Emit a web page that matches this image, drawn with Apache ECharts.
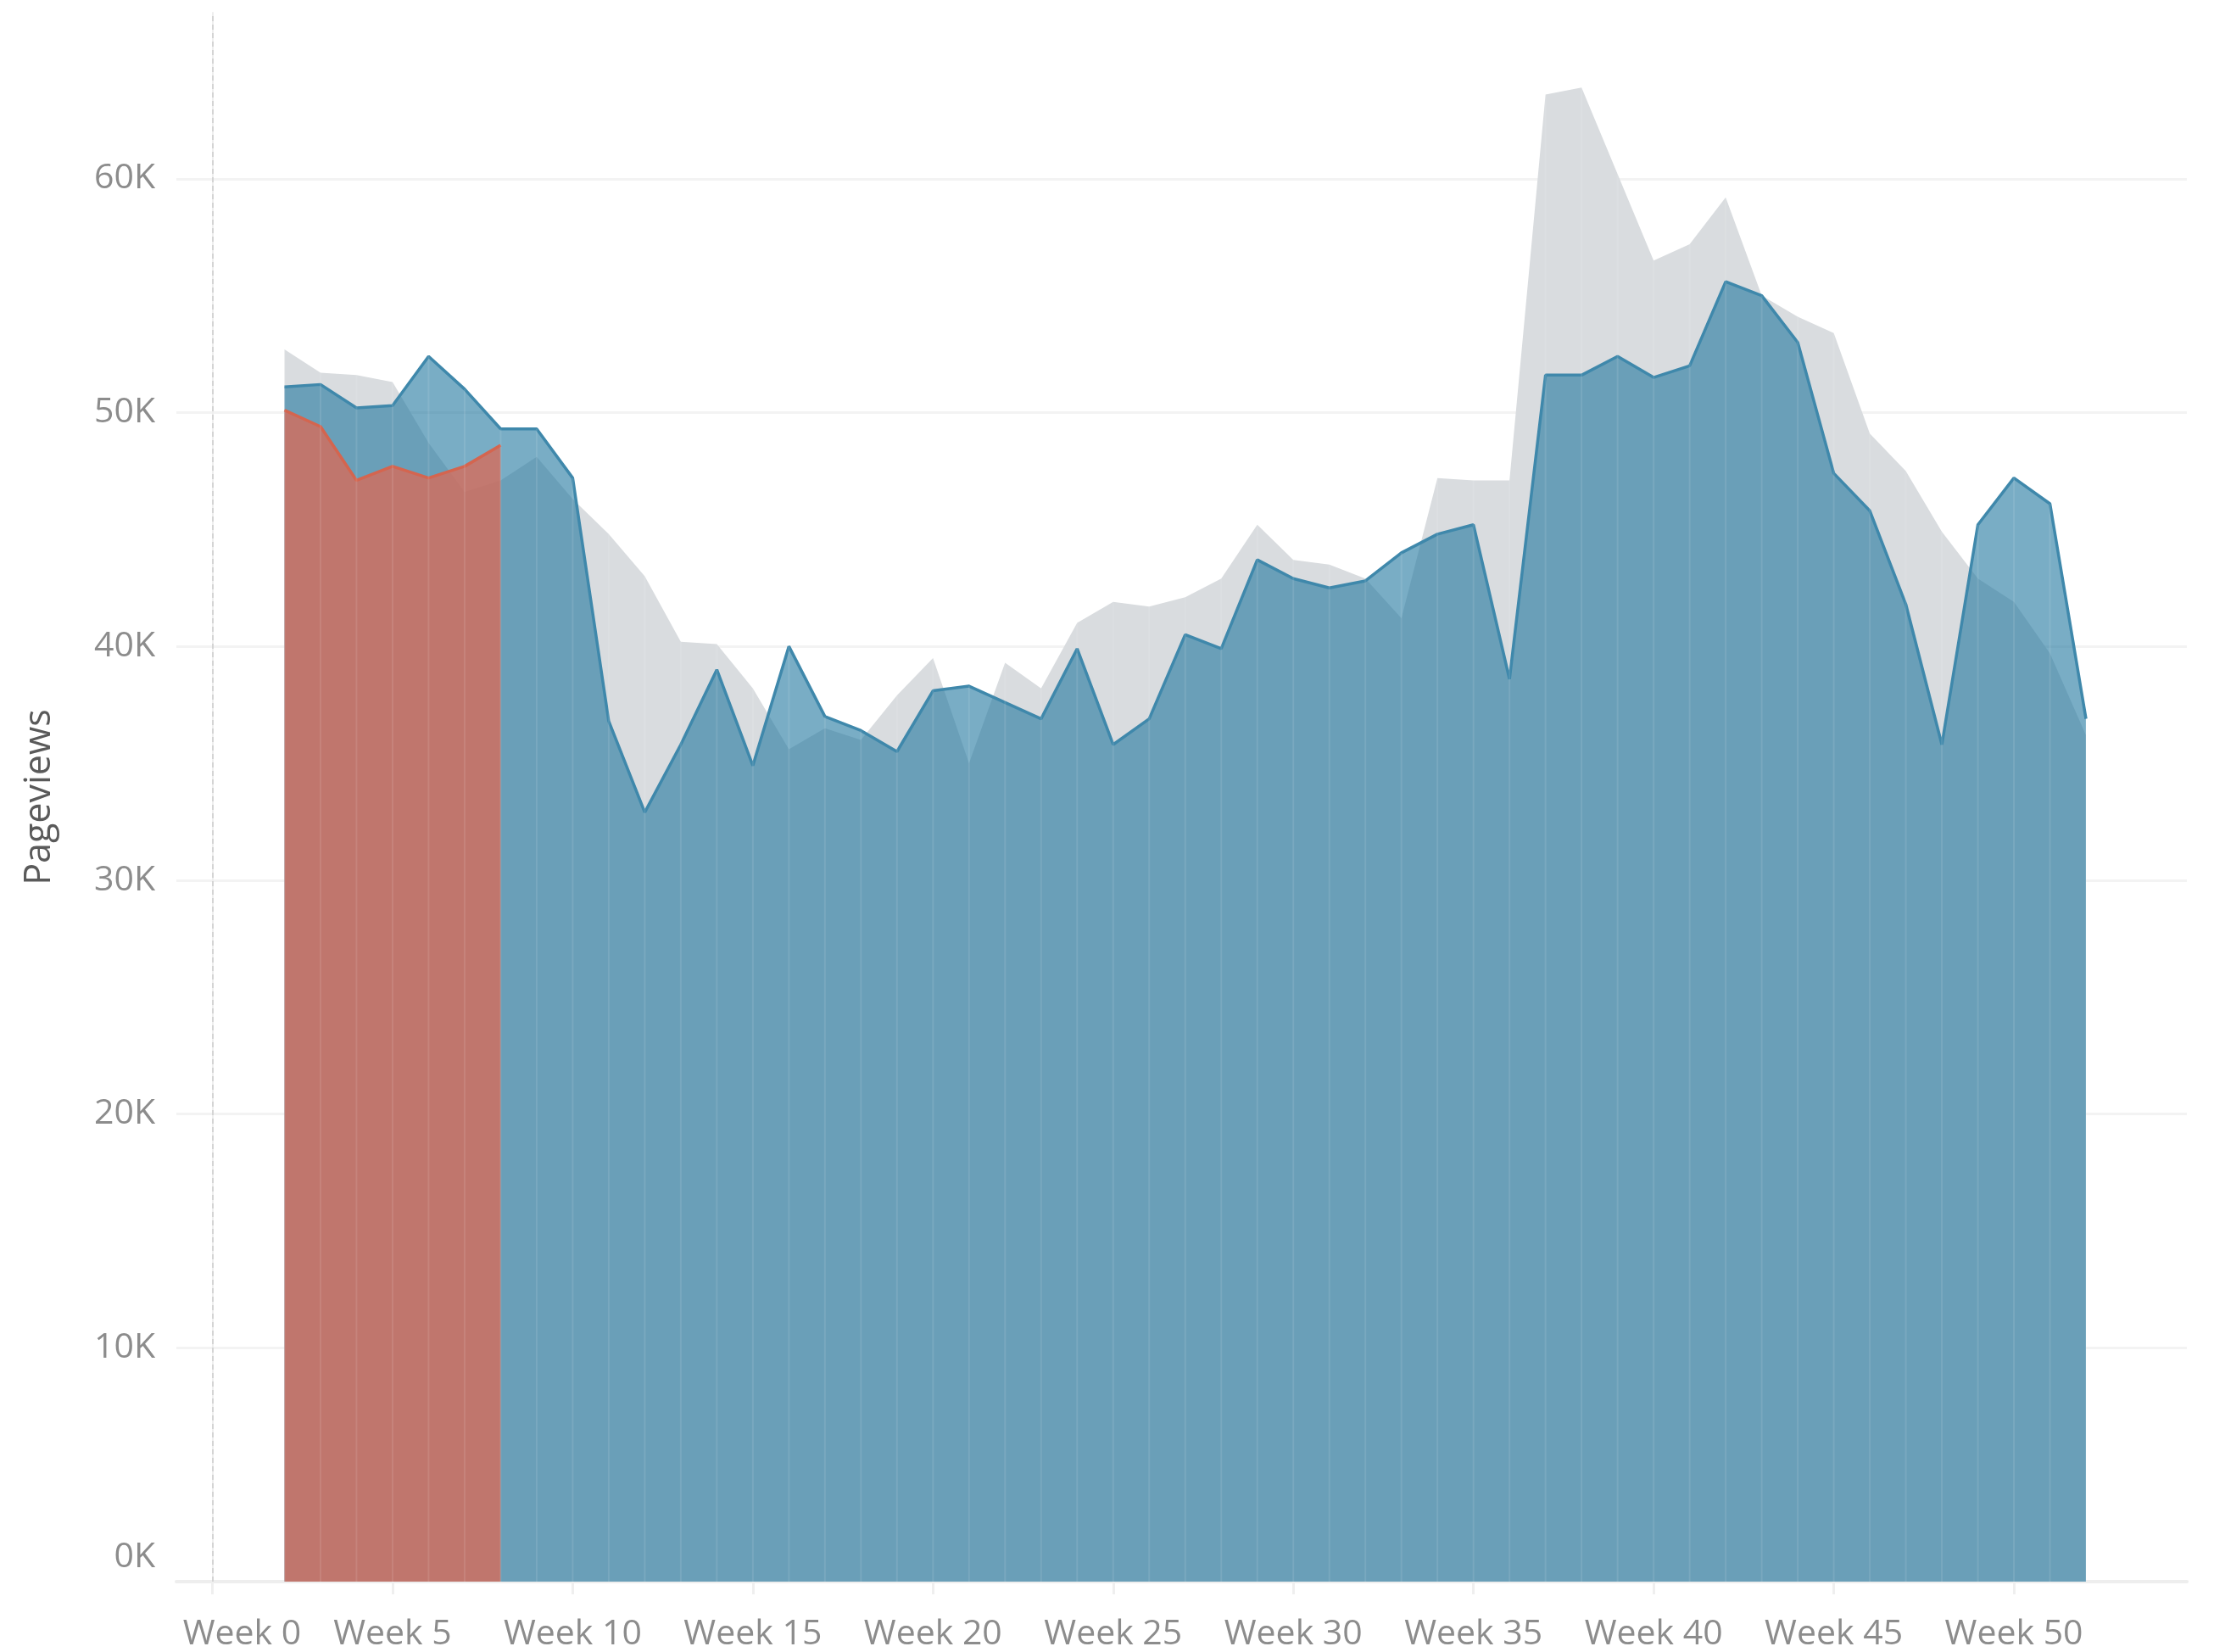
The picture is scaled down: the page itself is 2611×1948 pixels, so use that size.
<!DOCTYPE html>
<html>
<head>
<meta charset="utf-8">
<title>Pageviews by week</title>
<script src="https://cdn.jsdelivr.net/npm/echarts@6/dist/echarts.min.js"></script>
<style>
  html, body { margin: 0; padding: 0; background: #fff; }
  #main { width: 2611px; height: 1948px; }
</style>
</head>
<body>
<div id="main"></div>
<script>
const chartDom = document.getElementById('main')
const myChart = echarts.init(chartDom)

// week numbers shown on the chart
const weeks = [2, 3, 4, 5, 6, 7, 8, 9, 10, 11, 12, 13, 14, 15, 16, 17, 18, 19, 20, 21, 22, 23, 24, 25, 26,
    27, 28, 29, 30, 31, 32, 33, 34, 35, 36, 37, 38, 39, 40, 41, 42, 43, 44, 45, 46, 47, 48, 49, 50, 51, 52]

// previous year (grey)
const lastYear = [52700, 51700, 51600, 51300, 48700, 46600, 47100, 48100, 46300, 44800, 43000, 40200, 40100,
    38200, 35600, 36500, 36000, 37900, 39500, 35000, 39300, 38200, 41000, 41900, 41700, 42100, 42900, 45200,
    43700, 43500, 42900, 41200, 47200, 47100, 47100, 63600, 63900, 60200, 56500, 57200, 59200, 55000, 54100,
    53400, 49100, 47500, 44900, 42900, 41900, 39700, 36200]

// current year (blue)
const thisYear = [51100, 51200, 50200, 50300, 52400, 51000, 49300, 49300, 47200, 36800, 32900, 35800, 39000,
    34900, 40000, 37000, 36400, 35500, 38100, 38300, 37600, 36900, 39900, 35800, 36900, 40500, 39900, 43700,
    42900, 42500, 42800, 44000, 44800, 45200, 38600, 51600, 51600, 52400, 51500, 52000, 55600, 55000, 53000,
    47400, 45800, 41800, 35800, 45200, 47200, 46100, 36900]

// highlighted weeks (red)
const highlightWeeks = [2, 3, 4, 5, 6, 7, 8]
const highlight = [50100, 49400, 47100, 47700, 47200, 47700, 48600]

const weekTicks = [0, 5, 10, 15, 20, 25, 30, 35, 40, 45, 50]

const font = '"Open Sans", "Noto Sans", sans-serif'
const labelColor = '#8c8c8c'

const pairs = (xs, ys) => xs.map((x, i) => [x, ys[i]])

// thin light seams at each week, like the segment joins of the original
const seams = weeks.map((w, i) => [w, Math.max(lastYear[i], thisYear[i])])

const option = {
    animation: false,
    backgroundColor: '#ffffff',
    grid: {
        left: 208,
        right: 32,
        top: 15,
        bottom: 81
    },
    xAxis: {
        type: 'value',
        min: -1,
        max: 54.8,
        splitLine: { show: false },
        axisLine: {
            show: true,
            onZero: false,
            lineStyle: { color: '#eeeeee', width: 4 }
        },
        axisTick: {
            show: true,
            customValues: weekTicks,
            length: 15,
            lineStyle: { color: '#efefef', width: 3 }
        },
        axisLabel: {
            customValues: weekTicks,
            margin: 42,
            fontFamily: font,
            fontSize: 41,
            color: labelColor,
            formatter: function (v) {
                return v === 0 ? '{w|Week 0}' : 'Week ' + v
            },
            rich: {
                w: {
                    fontFamily: font,
                    fontSize: 41,
                    color: labelColor,
                    padding: [0, 0, 0, 70]
                }
            }
        }
    },
    yAxis: {
        type: 'value',
        min: 0,
        max: 67100,
        interval: 10000,
        name: 'Pageviews',
        nameLocation: 'middle',
        nameGap: 140,
        nameTextStyle: {
            fontFamily: font,
            fontSize: 43,
            color: '#5a5a5a'
        },
        axisLine: {
            show: true,
            lineStyle: { color: '#eeeeee', width: 2 }
        },
        axisTick: { show: false },
        splitLine: {
            show: true,
            showMinLine: false,
            showMaxLine: false,
            lineStyle: { color: '#f3f3f3', width: 3 }
        },
        axisLabel: {
            margin: 25,
            showMaxLabel: false,
            fontFamily: font,
            fontSize: 41,
            color: labelColor,
            formatter: function (v) {
                return v === 0 ? '{z|0K}' : (v / 1000) + 'K'
            },
            rich: {
                z: {
                    fontFamily: font,
                    fontSize: 41,
                    color: labelColor,
                    padding: [0, 0, 58, 0]
                }
            }
        }
    },
    series: [
        {
            name: 'Last year',
            type: 'line',
            data: pairs(weeks, lastYear),
            symbol: 'none',
            z: 1,
            lineStyle: { width: 0 },
            areaStyle: { color: '#d9dcdf', opacity: 1 },
            markLine: {
                silent: true,
                symbol: 'none',
                label: { show: false },
                lineStyle: { color: '#d4d4d4', type: [6, 4], width: 2 },
                data: [{ xAxis: 0 }]
            }
        },
        {
            name: 'This year',
            type: 'line',
            data: pairs(weeks, thisYear),
            symbol: 'none',
            z: 2,
            lineStyle: { color: '#3f88ab', width: 3.5 },
            areaStyle: { color: 'rgba(32,118,158,0.6)', opacity: 1 }
        },
        {
            name: 'Highlight',
            type: 'line',
            data: pairs(highlightWeeks, highlight),
            symbol: 'none',
            z: 3,
            lineStyle: { color: '#d4654f', width: 3.5 },
            areaStyle: { color: 'rgba(214,108,90,0.8)', opacity: 1 }
        },
        {
            name: 'seams',
            type: 'bar',
            data: seams,
            barWidth: 2,
            z: 4,
            silent: true,
            itemStyle: { color: 'rgba(255,255,255,0.1)' }
        }
    ]
}

myChart.setOption(option)
</script>
</body>
</html>
